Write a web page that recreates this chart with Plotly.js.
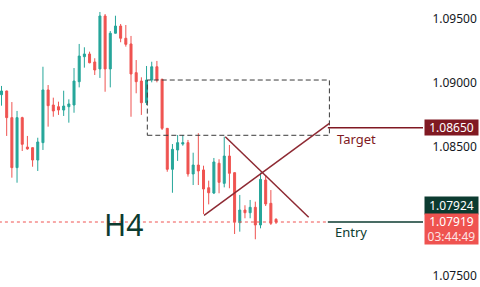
<!DOCTYPE html>
<html>
<head>
<meta charset="utf-8">
<script src="https://cdn.plot.ly/plotly-3.0.1.min.js"></script>
<style>html,body{margin:0;padding:0;background:#fff;}#chart{width:480px;height:287px;}</style>
</head>
<body>
<div id="chart"></div>
<script>
// H4 candles (oldest to newest)
const openP  = [1.08907,1.08936,1.08729,1.08341,1.08729,1.08501,1.08496,1.08400,1.08535,1.08944,
                1.08827,1.08814,1.08788,1.08814,1.08827,1.09008,1.09202,1.09223,1.09161,1.09107,
                1.09518,1.09107,1.09384,1.09440,1.09345,1.09301,1.09078,1.09013,1.08845,1.09021,
                1.09124,1.09027,1.08646,1.08328,1.08478,1.08524,1.08535,1.08292,1.08361,1.08323,
                1.08185,1.08144,1.08375,1.08219,1.08431,1.08302,1.07914,1.08012,1.07991,1.08033,
                1.07896,1.08245,1.08064,1.07940];
const highP  = [1.08975,1.08938,1.08850,1.08781,1.08736,1.08587,1.08498,1.08573,1.09124,1.08982,
                1.08884,1.08853,1.08938,1.08871,1.09114,1.09301,1.09275,1.09241,1.09190,1.09549,
                1.09533,1.09401,1.09520,1.09456,1.09448,1.09363,1.09176,1.09042,1.09130,1.09163,
                1.09169,1.09030,1.08648,1.08524,1.08594,1.08594,1.08556,1.08457,1.08608,1.08356,
                1.08240,1.08416,1.08406,1.08581,1.08517,1.08304,1.08129,1.08049,1.08090,1.08077,
                1.08302,1.08284,1.08167,1.07948];
const lowP   = [1.08822,1.08587,1.08263,1.08224,1.08470,1.08480,1.08348,1.08315,1.08478,1.08659,
                1.08736,1.08750,1.08742,1.08690,1.08767,1.08964,1.09117,1.09151,1.09060,1.09037,
                1.08930,1.08964,1.09382,1.09314,1.09280,1.08736,1.08918,1.08750,1.08827,1.09003,
                1.09003,1.08633,1.08309,1.08146,1.08393,1.08511,1.08271,1.08206,1.08206,1.07981,
                1.08056,1.08136,1.08142,1.08188,1.08181,1.07826,1.07844,1.07948,1.07948,1.07785,
                1.07870,1.08043,1.07896,1.07904];
const closeP = [1.08936,1.08729,1.08341,1.08729,1.08522,1.08486,1.08400,1.08540,1.08944,1.08822,
                1.08781,1.08788,1.08819,1.08835,1.09013,1.09207,1.09223,1.09155,1.09099,1.09518,
                1.09107,1.09384,1.09440,1.09345,1.09298,1.09068,1.09008,1.08845,1.09021,1.09124,
                1.09021,1.08646,1.08328,1.08483,1.08535,1.08535,1.08292,1.08361,1.08315,1.08175,
                1.08146,1.08385,1.08227,1.08431,1.08297,1.07921,1.08012,1.07991,1.08033,1.07896,
                1.08250,1.08059,1.07909,1.07919];
const barIndex = openP.map((_, i) => i);

// price axis ticks
const tickVals   = [1.095, 1.09, 1.085, 1.075];
const tickLabels = ["1.09500", "1.09000", "1.08500", "1.07500"];

// drawn levels / tools
const targetPrice = 1.0865;
const entryPrice  = 1.07919;
const bidPrice    = 1.07924;
const countdown   = "03:44:49";
const zoneX = [28.15, 63.3];
const zoneY = [1.08592, 1.09021];
const crossDownX = [43.2, 59.3];
const crossDownY = [1.08581, 1.07956];
const crossUpX = [39.1, 63.3];
const crossUpY = [1.07971, 1.08685];
const levelStartX = 63.0;

const GREEN = '#26a69a', RED = '#ef5350', DKRED = '#801922', DKGREEN = '#0c3b30';

const trace = {
  type: 'candlestick',
  x: barIndex, open: openP, high: highP, low: lowP, close: closeP,
  increasing: {line: {color: GREEN, width: 1}, fillcolor: GREEN},
  decreasing: {line: {color: RED, width: 1}, fillcolor: RED},
  whiskerwidth: 0,
  hoverinfo: 'skip',
  showlegend: false
};

const shapes = [
  {type: 'rect', xref: 'x', yref: 'y', x0: zoneX[0], x1: zoneX[1], y0: zoneY[0], y1: zoneY[1],
   line: {color: '#3a3a3a', width: 1, dash: '5px,3px'}, fillcolor: 'rgba(0,0,0,0)', layer: 'above'},
  {type: 'line', xref: 'x', yref: 'y', x0: -0.5, x1: levelStartX, y0: entryPrice, y1: entryPrice,
   line: {color: RED, width: 1, dash: 'dot'}},
  {type: 'line', xref: 'x', yref: 'y', x0: crossDownX[0], x1: crossDownX[1], y0: crossDownY[0], y1: crossDownY[1],
   line: {color: '#8e2a33', width: 1.5}},
  {type: 'line', xref: 'x', yref: 'y', x0: crossUpX[0], x1: crossUpX[1], y0: crossUpY[0], y1: crossUpY[1],
   line: {color: '#8e2a33', width: 1.5}},
  {type: 'line', xref: 'x', yref: 'y', x0: levelStartX, x1: 82, y0: targetPrice, y1: targetPrice,
   line: {color: DKRED, width: 1.5}},
  {type: 'line', xref: 'x', yref: 'y', x0: levelStartX, x1: 82, y0: entryPrice, y1: entryPrice,
   line: {color: DKGREEN, width: 1.5}}
];

const annotations = [
  {xref: 'x', yref: 'y', x: 64.4, y: targetPrice, yshift: -11, xanchor: 'left', yanchor: 'middle',
   text: 'Target', showarrow: false, font: {size: 13, color: DKRED}},
  {xref: 'x', yref: 'y', x: 64.0, y: entryPrice, yshift: -10, xanchor: 'left', yanchor: 'middle',
   text: 'Entry', showarrow: false, font: {size: 13, color: DKGREEN}},
  {xref: 'x', yref: 'y', x: 23.6, y: entryPrice, yshift: -2, xanchor: 'center', yanchor: 'middle',
   text: 'H4', showarrow: false, font: {size: 30, color: DKGREEN}},
  {xref: 'paper', yref: 'y', x: 1, xshift: 1, y: targetPrice, xanchor: 'left', yanchor: 'middle',
   text: targetPrice.toFixed(5), showarrow: false, bgcolor: DKRED, width: 51, height: 13, borderpad: 1,
   font: {size: 12, color: '#ffffff'}},
  {xref: 'paper', yref: 'y', x: 1, xshift: 1, y: bidPrice, yshift: 16, xanchor: 'left', yanchor: 'middle',
   text: bidPrice.toFixed(5), showarrow: false, bgcolor: DKGREEN, width: 51, height: 15, borderpad: 1,
   font: {size: 12, color: '#ffffff'}},
  {xref: 'paper', yref: 'y', x: 1, xshift: 1, y: entryPrice, yshift: -7, xanchor: 'left', yanchor: 'middle',
   text: entryPrice.toFixed(5) + '<br><span style="color:#fde3e3">' + countdown + '</span>',
   showarrow: false, bgcolor: RED, width: 51, height: 28, borderpad: 1,
   font: {size: 12, color: '#ffffff'}}
];

const layout = {
  width: 480, height: 287,
  margin: {l: 0, r: 57, t: 0, b: 0},
  paper_bgcolor: '#ffffff', plot_bgcolor: '#ffffff',
  font: {family: 'Noto Sans, sans-serif', color: '#131722', size: 12},
  boxgap: 0.45,
  xaxis: {range: [-0.29, 81.37], visible: false, rangeslider: {visible: false}, fixedrange: true},
  yaxis: {range: [1.074146, 1.09642], side: 'right', showgrid: false, zeroline: false, showline: false,
          tickmode: 'array', tickvals: tickVals, ticktext: tickLabels,
          ticks: 'outside', ticklen: 6, tickcolor: 'rgba(0,0,0,0)', tickfont: {size: 12, color: '#131722'}},
  shapes: shapes,
  annotations: annotations,
  showlegend: false
};

Plotly.newPlot('chart', [trace], layout, {staticPlot: true, displayModeBar: false});
</script>
</body>
</html>
